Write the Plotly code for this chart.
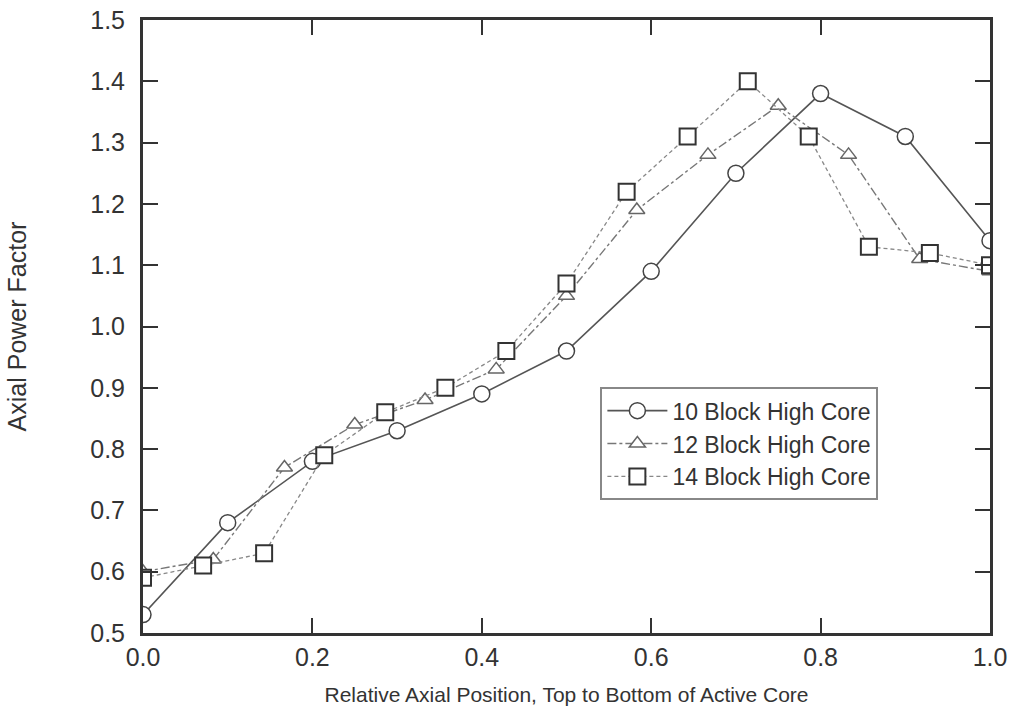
import plotly.graph_objects as go

x10 = [0.0, 0.1, 0.2, 0.3, 0.4, 0.5, 0.6, 0.7, 0.8, 0.9, 1.0]
y10 = [0.53, 0.68, 0.78, 0.83, 0.89, 0.96, 1.09, 1.25, 1.38, 1.31, 1.14]

x12 = [0.0, 0.083, 0.167, 0.25, 0.333, 0.417, 0.5, 0.583, 0.667, 0.75, 0.833, 0.917, 1.0]
y12 = [0.60, 0.62, 0.77, 0.84, 0.88, 0.93, 1.05, 1.19, 1.28, 1.36, 1.28, 1.11, 1.09]

x14 = [0.0, 0.071, 0.143, 0.214, 0.286, 0.357, 0.429, 0.5, 0.571, 0.643, 0.714, 0.786, 0.857, 0.929, 1.0]
y14 = [0.59, 0.61, 0.63, 0.79, 0.86, 0.90, 0.96, 1.07, 1.22, 1.31, 1.40, 1.31, 1.13, 1.12, 1.10]

names = ["10 Block High Core", "12 Block High Core", "14 Block High Core"]
x_ticks = [0.0, 0.2, 0.4, 0.6, 0.8, 1.0]
y_ticks = [0.5, 0.6, 0.7, 0.8, 0.9, 1.0, 1.1, 1.2, 1.3, 1.4, 1.5]

FONT = "Liberation Sans, Arial, sans-serif"

fig = go.Figure()
fig.add_trace(go.Scatter(
    x=x10, y=y10, name=names[0], mode="lines+markers",
    line=dict(color="#555555", width=1.6, dash="solid"),
    marker=dict(symbol="circle", size=16, color="white", line=dict(color="#444444", width=1.5)),
))
fig.add_trace(go.Scatter(
    x=x12, y=y12, name=names[1], mode="lines+markers",
    line=dict(color="#777777", width=1.4, dash="dashdot"),
    marker=dict(symbol="triangle-up", size=14, color="white", line=dict(color="#666666", width=1.5)),
))
fig.add_trace(go.Scatter(
    x=x14, y=y14, name=names[2], mode="lines+markers",
    line=dict(color="#888888", width=1.3, dash="4px,3px"),
    marker=dict(symbol="square", size=16, color="white", line=dict(color="#333333", width=2)),
))

axis_common = dict(
    showline=True, linecolor="#333333", linewidth=3, mirror="allticks",
    ticks="inside", ticklen=15, tickwidth=1.5, tickcolor="#333333",
    showgrid=False, zeroline=False, automargin=False,
    tickfont=dict(family=FONT, size=25, color="#333333"),
)

fig.update_layout(
    width=1014, height=715,
    margin=dict(l=143, r=24, t=20, b=82),
    paper_bgcolor="white", plot_bgcolor="white",
    font=dict(family=FONT, color="#333333"),
    xaxis=dict(range=[0, 1], tickvals=x_ticks, ticktext=[f"{v:.1f}" for v in x_ticks],
               ticklabelstandoff=0,
               title=dict(text="Relative Axial Position, Top to Bottom of Active Core",
                          font=dict(size=21), standoff=18), **axis_common),
    yaxis=dict(range=[0.5, 1.5], tickvals=y_ticks, ticktext=[f"{v:.1f}" for v in y_ticks],
               ticklabelstandoff=10,
               title=dict(text="Axial Power Factor", font=dict(size=25), standoff=57), **axis_common),
    legend=dict(x=0.54, y=0.401, xanchor="left", yanchor="top",
                bgcolor="white", bordercolor="#888888", borderwidth=2,
                font=dict(size=23, color="#333333"), tracegroupgap=0,
                itemwidth=60),
    showlegend=True,
)

fig.write_html("out.html")
